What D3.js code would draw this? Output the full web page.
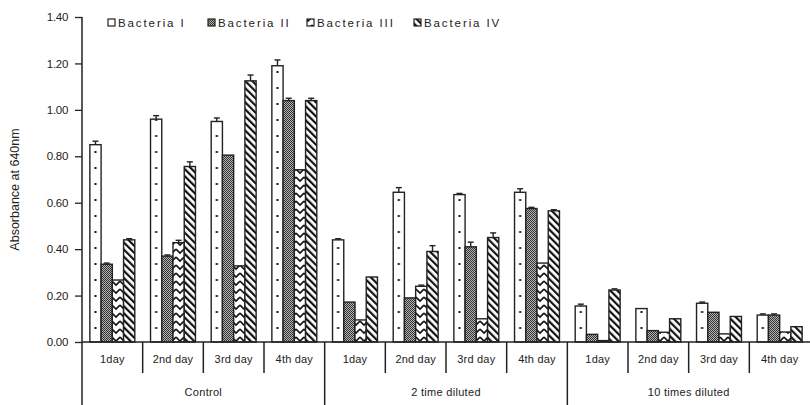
<!DOCTYPE html>
<html><head><meta charset="utf-8">
<script src="https://cdn.jsdelivr.net/npm/d3@7"></script>
<style>body{margin:0;background:#fff}svg{display:block;font-family:"Liberation Sans",Arial,sans-serif}</style>
</head><body><svg id="c" width="810" height="405"></svg>
<script>
const groups = ["Control", "2 time diluted", "10 times diluted"];
const days = ["1day", "2nd day", "3rd day", "4th day"];
const seriesNames = ["Bacteria I", "Bacteria II", "Bacteria III", "Bacteria IV"];
const bacteriaI   = [0.85, 0.96, 0.95, 1.19, 0.44, 0.645, 0.635, 0.645, 0.155, 0.144, 0.167, 0.116];
const bacteriaII  = [0.335, 0.37, 0.805, 1.04, 0.172, 0.19, 0.41, 0.575, 0.033, 0.049, 0.128, 0.116];
const bacteriaIII = [0.267, 0.428, 0.328, 0.742, 0.095, 0.24, 0.10, 0.34, 0.006, 0.042, 0.035, 0.043];
const bacteriaIV  = [0.44, 0.756, 1.125, 1.04, 0.28, 0.39, 0.45, 0.565, 0.224, 0.10, 0.11, 0.066];
const errI   = [0.015, 0.015, 0.015, 0.025, 0.005, 0.02, 0.005, 0.015, 0.008, 0, 0.005, 0.005];
const errII  = [0.005, 0.005, 0, 0.01, 0, 0, 0.02, 0.005, 0, 0, 0, 0.005];
const errIII = [0, 0.01, 0, 0, 0, 0.005, 0, 0, 0, 0, 0, 0];
const errIV  = [0.005, 0.02, 0.025, 0.01, 0, 0.025, 0.02, 0.005, 0.005, 0, 0, 0];
const yTicks = [0, 0.2, 0.4, 0.6, 0.8, 1.0, 1.2, 1.4];

const values = [bacteriaI, bacteriaII, bacteriaIII, bacteriaIV];
const errors = [errI, errII, errIII, errIV];
const slots = [];
groups.forEach(g => days.forEach(d => slots.push(g + "|" + d)));

const svg = d3.select("#c");
const left = 82, right = 810, y0 = 342, yTop = 17;
const x = d3.scaleBand().domain(slots).range([left, right]).padding(0);
const xs = d3.scaleBand().domain(d3.range(4)).range([0, x.bandwidth()]).paddingOuter(0.7).paddingInner(0);
const y = d3.scaleLinear().domain([0, 1.4]).range([y0, yTop]);

const defs = svg.append("defs");
const pI = defs.append("pattern").attr("id", "pI").attr("patternUnits", "userSpaceOnUse")
  .attr("x", left).attr("y", 0).attr("width", x.bandwidth()).attr("height", 16);
pI.append("rect").attr("width", x.bandwidth()).attr("height", 16).attr("fill", "#fff");
pI.append("rect").attr("x", xs(0) + xs.bandwidth() / 2 - 1).attr("y", 7).attr("width", 2).attr("height", 2).attr("fill", "#111");
const pII = defs.append("pattern").attr("id", "pII").attr("patternUnits", "userSpaceOnUse")
  .attr("width", 2).attr("height", 2);
pII.append("rect").attr("width", 2).attr("height", 2).attr("fill", "#b4b4b4");
pII.append("rect").attr("width", 1).attr("height", 1).attr("fill", "#333");
pII.append("rect").attr("x", 1).attr("y", 1).attr("width", 1).attr("height", 1).attr("fill", "#333");
const pIII = defs.append("pattern").attr("id", "pIII").attr("patternUnits", "userSpaceOnUse")
  .attr("width", 8).attr("height", 8);
pIII.append("rect").attr("width", 8).attr("height", 8).attr("fill", "#fff");
pIII.append("path").attr("d", "M0,1 L4,5 L8,1").attr("fill", "none").attr("stroke", "#111").attr("stroke-width", 1.6);
const pIV = defs.append("pattern").attr("id", "pIV").attr("patternUnits", "userSpaceOnUse")
  .attr("width", 5).attr("height", 5).attr("patternTransform", "rotate(-45)");
pIV.append("rect").attr("width", 5).attr("height", 5).attr("fill", "#fff");
pIV.append("rect").attr("x", 0).attr("width", 2.2).attr("height", 5).attr("fill", "#111");
const fills = ["url(#pI)", "url(#pII)", "url(#pIII)", "url(#pIV)"];

const yAxis = d3.axisLeft(y).tickValues(yTicks).tickFormat(d3.format(".2f")).tickSize(7).tickSizeOuter(0);
const ga = svg.append("g").attr("transform", `translate(${left},0)`).call(yAxis);
ga.select(".domain").remove();
ga.selectAll("line").attr("stroke", "#222").attr("stroke-width", 1.3);
ga.selectAll("text").attr("font-size", 11.5).attr("fill", "#222").attr("x", -14).attr("letter-spacing", -0.3);
svg.append("line").attr("x1", left).attr("x2", left).attr("y1", yTop).attr("y2", 405).attr("stroke", "#222").attr("stroke-width", 1.5);

svg.append("text").attr("transform", `translate(19,${(y(0) + y(1.4)) / 2 + 10}) rotate(-90)`)
  .attr("text-anchor", "middle").attr("font-size", 12.5).attr("fill", "#222").text("Absorbance at 640nm");

values.forEach((vals, si) => {
  const g = svg.append("g");
  g.selectAll("rect").data(vals).join("rect")
    .attr("x", (d, i) => x(slots[i]) + xs(si))
    .attr("y", d => y(d))
    .attr("width", xs.bandwidth())
    .attr("height", d => y(0) - y(d))
    .attr("fill", fills[si]).attr("stroke", "#222").attr("stroke-width", 1.4);
  const eg = svg.append("g").attr("stroke", "#222").attr("stroke-width", 1.4);
  vals.forEach((d, i) => {
    const e = errors[si][i];
    if (!e) return;
    const cx = x(slots[i]) + xs(si) + xs.bandwidth() / 2;
    eg.append("line").attr("x1", cx).attr("x2", cx).attr("y1", y(d)).attr("y2", y(d + e));
    eg.append("line").attr("x1", cx - 3).attr("x2", cx + 3).attr("y1", y(d + e)).attr("y2", y(d + e));
  });
});

svg.append("line").attr("x1", left).attr("x2", right).attr("y1", y0).attr("y2", y0).attr("stroke", "#222").attr("stroke-width", 1.5);
slots.forEach((s, i) => {
  if (i === 0) return;
  const major = i % 4 === 0;
  svg.append("line").attr("x1", x(s)).attr("x2", x(s)).attr("y1", y0).attr("y2", major ? 405 : 373)
    .attr("stroke", "#222").attr("stroke-width", 1.5);
});
svg.append("g").selectAll("text").data(slots).join("text")
  .attr("x", d => x(d) + x.bandwidth() / 2).attr("y", 363)
  .attr("text-anchor", "middle").attr("font-size", 11).attr("fill", "#222").attr("letter-spacing", 0.2)
  .text(d => d.split("|")[1]);
svg.append("g").selectAll("text").data(groups).join("text")
  .attr("x", (d, gi) => x(slots[gi * 4]) + 2 * x.bandwidth()).attr("y", 396)
  .attr("text-anchor", "middle").attr("font-size", 11).attr("fill", "#222").attr("letter-spacing", 0.3)
  .text(d => d);

const legX = [108, 208, 307, 414];
const leg = svg.append("g");
seriesNames.forEach((n, i) => {
  leg.append("rect").attr("x", legX[i]).attr("y", 19).attr("width", 7).attr("height", 7)
    .attr("fill", i === 0 ? "#fff" : fills[i]).attr("stroke", "#222").attr("stroke-width", 1.2);
  leg.append("text").attr("x", legX[i] + 10).attr("y", 27).attr("font-size", 11.5).attr("fill", "#222")
    .attr("letter-spacing", 1.9).text(n);
});
</script></body></html>
